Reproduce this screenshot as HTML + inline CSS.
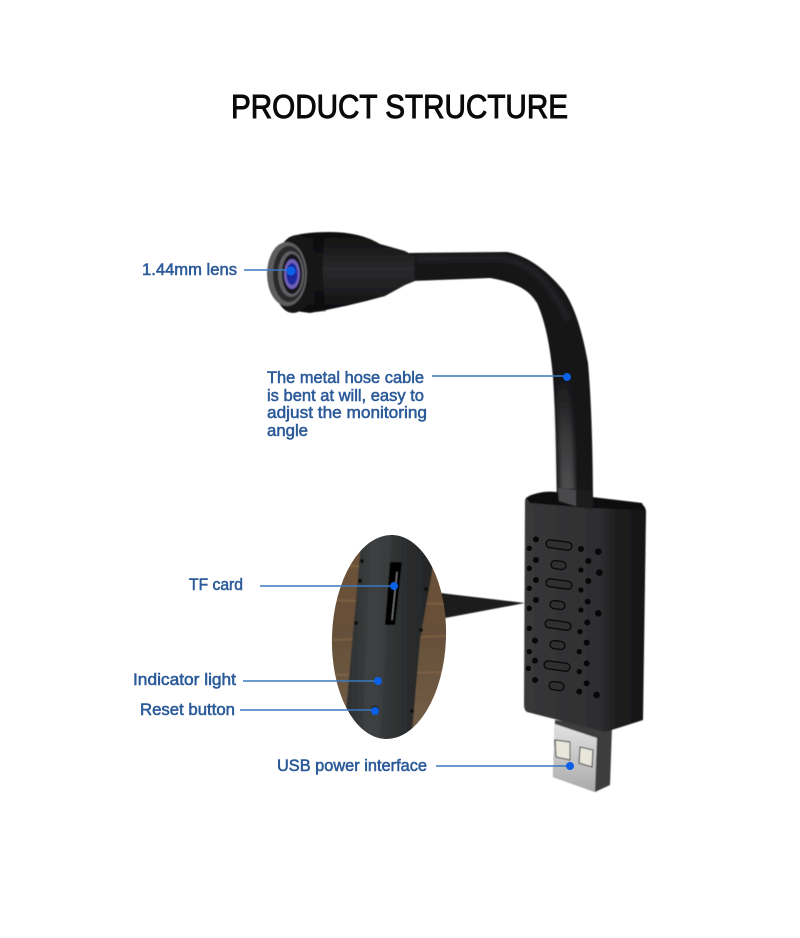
<!DOCTYPE html>
<html><head><meta charset="utf-8"><style>
html,body{margin:0;padding:0;background:#fff}
svg{display:block}
text{font-family:"Liberation Sans",sans-serif}
.l{fill:#2b5a99;font-size:17px;stroke:#2b5a99;stroke-width:.55px}
.ln{stroke:#3a78c0;stroke-width:1.4;fill:none}
.d{fill:#0a60e6}
</style></head><body>
<svg width="800" height="938" viewBox="0 0 800 938" xmlns="http://www.w3.org/2000/svg">
<defs>
<linearGradient id="body" x1="0" y1="0" x2="1" y2="0"><stop offset="0" stop-color="#38383a"/><stop offset=".62" stop-color="#2e2e30"/><stop offset=".76" stop-color="#1e1e1f"/><stop offset="1" stop-color="#141415"/></linearGradient>
<linearGradient id="cam" x1="0" y1="0" x2="0" y2="1"><stop offset="0" stop-color="#0d0d0e"/><stop offset=".45" stop-color="#2a2a2c"/><stop offset=".7" stop-color="#1f1f21"/><stop offset="1" stop-color="#0b0b0c"/></linearGradient>
<linearGradient id="vert" x1="0" y1="0" x2="0" y2="1"><stop offset="0" stop-color="#3a3a3c" stop-opacity="0"/><stop offset=".5" stop-color="#3a3a3c"/><stop offset="1" stop-color="#555557"/></linearGradient>
<linearGradient id="wood" x1="0" y1="0" x2="0" y2="1"><stop offset="0" stop-color="#6e5236"/><stop offset=".5" stop-color="#66503a"/><stop offset="1" stop-color="#75604a"/></linearGradient>
<linearGradient id="zoomb" x1="0" y1="0" x2="1" y2="0"><stop offset="0" stop-color="#2c2f2f"/><stop offset=".3" stop-color="#3b3e3e"/><stop offset=".7" stop-color="#2a2c2d"/><stop offset="1" stop-color="#232526"/></linearGradient>
<linearGradient id="silver" x1="0" y1="0" x2="0" y2="1"><stop offset="0" stop-color="#e2e2e2"/><stop offset="1" stop-color="#a9a9a9"/></linearGradient>
<clipPath id="ell"><ellipse cx="389" cy="637" rx="57" ry="102" transform="rotate(2 389 637)"/></clipPath>
<filter id="b"><feGaussianBlur stdDeviation=".6"/></filter>
<filter id="s"><feGaussianBlur stdDeviation="2.5"/></filter>
</defs>

<text x="231" y="118" font-size="33" textLength="337" lengthAdjust="spacingAndGlyphs" fill="#0a0a0a" stroke="#0a0a0a" stroke-width="1">PRODUCT STRUCTURE</text>

<g filter="url(#b)">
<!-- cable -->
<path d="M408 253 L507 252 C525 255 545 268 563 290 C575 306 583 335 588 363 C591 395 593 450 593 507 L557 503 C556 460 556 420 553 377 C551 355 547 325 537 303 C530 292 520 283 490 278 L412 281 Z" fill="#161617"/>
<path d="M555 385 C558 420 559 460 560 503 L575 506 C575 460 573 420 568 375 Z" fill="url(#vert)" filter="url(#s)"/>
<path d="M415 259 L500 258 C530 262 550 282 568 320" stroke="#2b2b2d" stroke-width="6" fill="none" opacity=".7" filter="url(#s)"/>
<!-- camera head -->
<path d="M288 238 Q300 232 330 232 Q360 232 380 244 L405 251 L414 256 L415 281 L405 285 L385 296 Q350 306 310 313 L288 310 Z" fill="url(#cam)"/>
<path d="M325 233 Q320 273 326 311 L316 312 Q310 273 314 233 Z" fill="#0d0d0e" opacity=".7"/>
<ellipse cx="295" cy="274" rx="22" ry="39" fill="#151516" transform="rotate(4 295 274)"/>
<ellipse cx="287" cy="274" rx="20" ry="32" fill="#5c5c5e"/>
<ellipse cx="289" cy="274" rx="16" ry="28" fill="#2a2a2c"/>
<ellipse cx="291" cy="274" rx="13" ry="23" fill="#5f5f62"/>
<ellipse cx="292" cy="274" rx="10" ry="20" fill="#17171b"/>
<ellipse cx="292" cy="274" rx="8" ry="15" fill="#6f60b8"/>
<ellipse cx="292" cy="274" rx="5.5" ry="11" fill="#1b2a9e"/>
<!-- usb plug -->
<path d="M555 720 L612 728 L610 785 L595 792 L553 777 Z" fill="#3c3c3d"/>
<path d="M555 724 L597 738 L595 792 L553 777 Z" fill="url(#silver)"/>
<path d="M555 740 L570 742 L570 760 L556 757 Z" fill="#e9e6dc" stroke="#333" stroke-width="1"/>
<path d="M580 747 L593 750 L592 767 L579 763 Z" fill="#e9e6dc" stroke="#333" stroke-width="1"/>
<!-- usb body -->
<path d="M525 500 Q527 494 545 492 L575 496 L640 503 Q646 506 646 512 L643 720 Q625 726 605 732 L527 712 Q524 710 524 705 Z" fill="url(#body)"/>
<path d="M526 498 Q540 490 556 492 L592 497 L642 503 L645 510 L590 508 L530 503 Z" fill="#0e0e0f"/>
<path d="M557 488 L593 490 L593 509 L576 507 L558 501 Z" fill="#1b1b1c"/>
<path d="M558 488 L576 490 L576 506 L559 501 Z" fill="#4a4a4b"/>
<!-- wedge -->
<path d="M440 593 L525 603 L445 618 Z" fill="#1a1a1a"/>
</g>

<!-- holes -->
<g fill="#080808" transform="translate(320 490) scale(.3333)">
<circle cx="648" cy="148" r="9"/><circle cx="628" cy="175" r="8"/><circle cx="648" cy="210" r="9"/><circle cx="628" cy="235" r="8"/><circle cx="648" cy="270" r="9"/><circle cx="628" cy="295" r="8"/><circle cx="648" cy="330" r="9"/><circle cx="628" cy="355" r="8"/><circle cx="628" cy="415" r="8"/><circle cx="645" cy="452" r="9"/><circle cx="628" cy="485" r="8"/><circle cx="645" cy="512" r="9"/><circle cx="625" cy="535" r="8"/><circle cx="645" cy="570" r="9"/>
<circle cx="783" cy="177" r="9"/><circle cx="805" cy="213" r="9"/><circle cx="783" cy="240" r="8"/><circle cx="805" cy="273" r="9"/><circle cx="783" cy="300" r="8"/><circle cx="803" cy="335" r="9"/><circle cx="783" cy="360" r="8"/><circle cx="802" cy="397" r="9"/><circle cx="780" cy="425" r="8"/><circle cx="800" cy="458" r="9"/><circle cx="778" cy="485" r="8"/><circle cx="800" cy="520" r="9"/><circle cx="778" cy="545" r="8"/><circle cx="800" cy="580" r="9"/><circle cx="778" cy="605" r="9"/>
<circle cx="835" cy="185" r="10"/><circle cx="838" cy="248" r="10"/><circle cx="835" cy="370" r="10"/><circle cx="830" cy="615" r="10"/>
</g>
<g fill="#2f2f31" stroke="#0a0a0a" stroke-width="1.4">
<rect x="546" y="541" width="26" height="8" rx="4" transform="rotate(8 559 545)"/>
<rect x="551" y="561" width="15" height="8" rx="4" transform="rotate(8 558 565)"/>
<rect x="546" y="580" width="26" height="8" rx="4" transform="rotate(8 559 584)"/>
<rect x="550" y="601" width="15" height="8" rx="4" transform="rotate(8 557 605)"/>
<rect x="545" y="621" width="26" height="8" rx="4" transform="rotate(8 558 625)"/>
<rect x="550" y="641" width="15" height="8" rx="4" transform="rotate(8 557 645)"/>
<rect x="544" y="662" width="26" height="8" rx="4" transform="rotate(8 557 666)"/>
<rect x="549" y="682" width="15" height="8" rx="4" transform="rotate(8 556 686)"/>
</g>

<!-- zoom ellipse -->
<g clip-path="url(#ell)" filter="url(#b)">
<rect x="330" y="530" width="120" height="215" fill="url(#wood)"/>
<g stroke="#8a6a48" stroke-width="2" opacity=".6"><path d="M330 565 L450 570"/><path d="M330 600 L450 604"/><path d="M330 640 L450 636"/><path d="M330 675 L450 672"/></g>
<path d="M362 530 L436 530 L432 572 L420 640 L411 745 L344 745 L347 700 L356 600 Z" fill="url(#zoomb)"/>
<path d="M371 535 L392 530 L388 600 L380 745 L362 745 Z" fill="#45494a" opacity=".35"/>
<path d="M390 562 L402 562 L395 625 L385 625 Z" fill="#060606"/>
<path d="M397 572 L392 620" stroke="#888" stroke-width="1"/>
<g fill="#0c0c0c"><circle cx="362" cy="561" r="2"/><circle cx="360" cy="581" r="2"/><circle cx="356" cy="623" r="2"/><circle cx="426" cy="589" r="2"/><circle cx="421" cy="630" r="2"/><circle cx="412" cy="711" r="2"/><circle cx="375" cy="710" r="4"/></g>
</g>

<!-- leader lines -->
<path class="ln" d="M244 270H290M432 376H567M260 586H393M243 681H378M240 710H375M436 766H570"/>
<circle class="d" cx="291" cy="271" r="4.5"/>
<circle class="d" cx="567" cy="377" r="4"/>
<circle class="d" cx="394" cy="586" r="4"/>
<circle class="d" cx="378" cy="681" r="4"/>
<circle class="d" cx="375" cy="711" r="4"/>
<circle class="d" cx="570" cy="766" r="4"/>

<!-- labels -->
<text class="l" x="142" y="275" textLength="95" lengthAdjust="spacingAndGlyphs">1.44mm lens</text>
<text class="l" x="267" y="383" textLength="157" lengthAdjust="spacingAndGlyphs">The metal hose cable</text>
<text class="l" x="267" y="401" textLength="157" lengthAdjust="spacingAndGlyphs">is bent at will, easy to</text>
<text class="l" x="267" y="418" textLength="160" lengthAdjust="spacingAndGlyphs">adjust the monitoring</text>
<text class="l" x="267" y="436" textLength="41" lengthAdjust="spacingAndGlyphs">angle</text>
<text class="l" x="189" y="590" textLength="54" lengthAdjust="spacingAndGlyphs">TF card</text>
<text class="l" x="133" y="685" textLength="103" lengthAdjust="spacingAndGlyphs">Indicator light</text>
<text class="l" x="140" y="715" textLength="95" lengthAdjust="spacingAndGlyphs">Reset button</text>
<text class="l" x="277" y="771" textLength="150" lengthAdjust="spacingAndGlyphs">USB power interface</text>
</svg>
</body></html>
